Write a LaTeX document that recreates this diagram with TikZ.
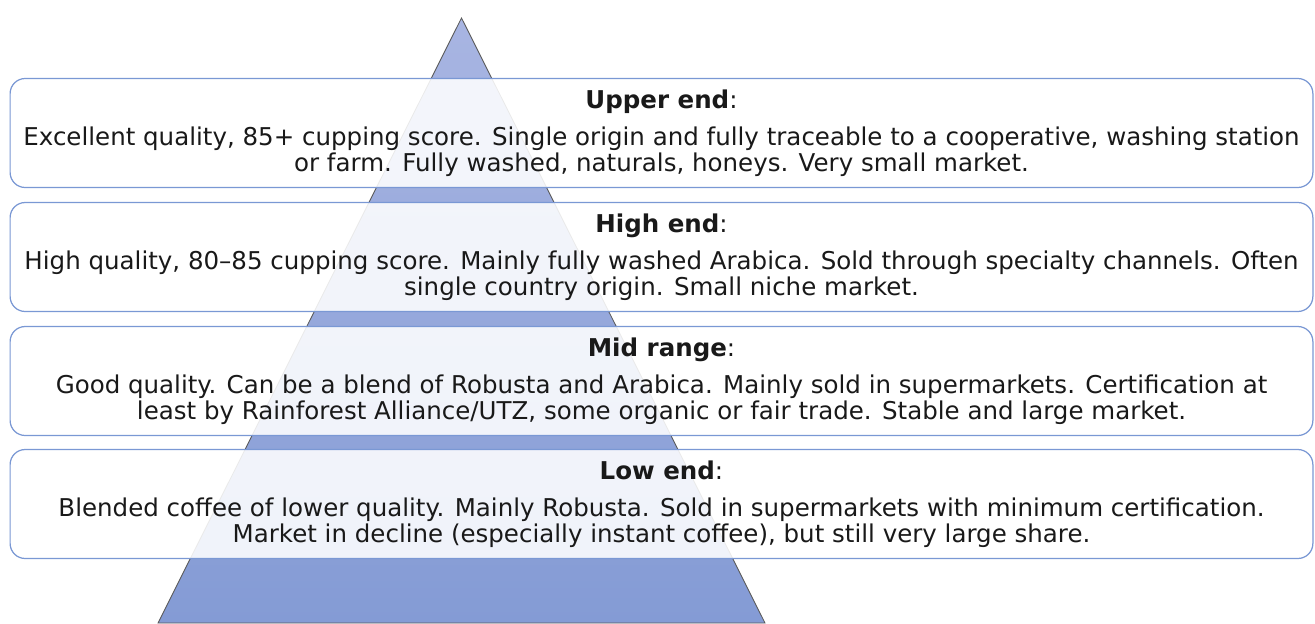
\documentclass[tikz,border=0pt]{standalone}
\usepackage{fontspec}
\setmainfont{DejaVu Sans}
\usetikzlibrary{shadings}

\definecolor{pyrtop}{RGB}{168,181,226}
\definecolor{pyrbot}{RGB}{132,155,213}
\definecolor{boxline}{RGB}{122,152,212}
\definecolor{txt}{RGB}{25,25,25}

\begin{document}
\begin{tikzpicture}[x=0.02cm, y=-0.02cm,
    tier/.style={draw=boxline, line width=0.7pt, rounded corners=0.3cm,
      fill=white, fill opacity=0.88, text opacity=1, text=txt,
      minimum width=26.06cm, minimum height=2.18cm, align=center,
      font=\fontsize{13.95}{14.8}\selectfont}]
\useasboundingbox (0,0) rectangle (1315,623);

\shade[top color=pyrtop, bottom color=pyrbot, draw=black!65, line width=0.5pt]
  (461.5,18) -- (765,623) -- (158,623) -- cycle;

\node[tier] (upper) at (661.5,133) {\textbf{Upper end}:\\[6pt]
  Excellent quality, 85+ cupping score. Single origin and fully traceable to a cooperative, washing station\\
  or farm. Fully washed, naturals, honeys. Very small market.};
\node[tier] (high) at (661.5,257) {\textbf{High end}:\\[6pt]
  High quality, 80--85 cupping score. Mainly fully washed Arabica. Sold through specialty channels. Often\\
  single country origin. Small niche market.};
\node[tier] (mid) at (661.5,381) {\textbf{Mid range}:\\[6pt]
  Good quality. Can be a blend of Robusta and Arabica. Mainly sold in supermarkets. Certification at\\
  least by Rainforest Alliance/UTZ, some organic or fair trade. Stable and large market.};
\node[tier] (low) at (661.5,504) {\textbf{Low end}:\\[6pt]
  Blended coffee of lower quality. Mainly Robusta. Sold in supermarkets with minimum certification.\\
  Market in decline (especially instant coffee), but still very large share.};
\end{tikzpicture}
\end{document}
